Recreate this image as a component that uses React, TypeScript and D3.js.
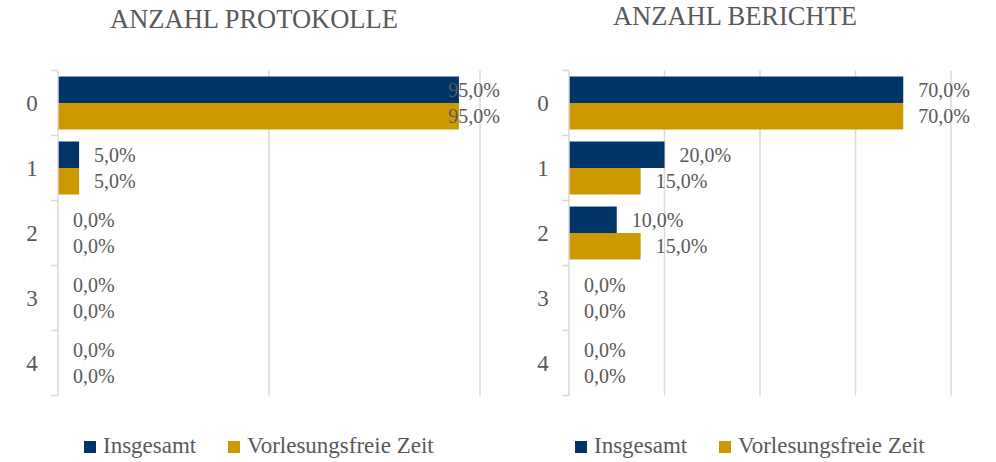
import React from 'react';
import * as d3 from 'd3';

const categories = ['0', '1', '2', '3', '4'];
const seriesNames = ['Insgesamt', 'Vorlesungsfreie Zeit'];
const seriesColors = ['#003366', '#CC9900'];

const protokolleInsgesamt = [95, 5, 0, 0, 0];
const protokolleVorlesungsfrei = [95, 5, 0, 0, 0];
const berichteInsgesamt = [70, 20, 10, 0, 0];
const berichteVorlesungsfrei = [70, 15, 15, 0, 0];

const protokolleTicks = [0, 50, 100];
const berichteTicks = [0, 20, 40, 60, 80];

const FONT = "'Liberation Serif', 'Times New Roman', serif";
const TEXT = '#595959';
const GRID = '#d9d9d9';

let ctx: CanvasRenderingContext2D | null = null;
const textWidth = (s: string, size: number) => {
  if (!ctx) ctx = document.createElement('canvas').getContext('2d');
  if (!ctx) return s.length * size * 0.5;
  ctx.font = `${size}px 'Liberation Serif'`;
  return ctx.measureText(s).width;
};

const fmt = (v: number) => v.toFixed(1).replace('.', ',') + '%';

interface PanelProps {
  title: string;
  titleX: number;
  titleY: number;
  x0: number;
  x1: number;
  ticks: number[];
  clipRight: number;
  series: number[][];
  legendX: number;
}

const Panel: React.FC<PanelProps> = ({ title, titleX, titleY, x0, x1, ticks, clipRight, series, legendX }) => {
  const x = d3.scaleLinear().domain([0, ticks[ticks.length - 1]]).range([x0, x1]);
  const y = d3.scaleBand().domain(categories).range([70.5, 395.5]).paddingInner(0.185).paddingOuter(0.0925);
  const sub = d3.scaleBand().domain(seriesNames).range([0, y.bandwidth()]);
  const step = y.step();
  const top = 70.5;
  const bottom = 395.5;

  return (
    <g>
      <text x={titleX} y={titleY} textAnchor="middle" fontSize={26.5} fill={TEXT} fontFamily={FONT}>{title}</text>

      {ticks.slice(1).map(t => (
        <line key={t} x1={x(t)} x2={x(t)} y1={top} y2={bottom} stroke={GRID} strokeWidth={1.5} />
      ))}

      {categories.map((c, i) => (
        <g key={c}>
          {seriesNames.map((s, j) => (
            <rect key={s} x={x(0)} y={(y(c) || 0) + (sub(s) || 0)} width={x(series[j][i]) - x(0)}
              height={sub.bandwidth()} fill={seriesColors[j]} />
          ))}
        </g>
      ))}

      <line x1={x0} x2={x0} y1={top} y2={bottom} stroke={GRID} strokeWidth={1.5} />
      {d3.range(categories.length + 1).map(k => (
        <line key={k} x1={x0 - 7} x2={x0} y1={top + k * step} y2={top + k * step} stroke={GRID} strokeWidth={1.5} />
      ))}

      {categories.map(c => (
        <text key={c} x={x0 - 26} y={(y(c) || 0) + y.bandwidth() / 2} dy="0.35em" textAnchor="middle"
          fontSize={23} fill={TEXT} fontFamily={FONT}>{c}</text>
      ))}

      {categories.map((c, i) => seriesNames.map((s, j) => {
        const label = fmt(series[j][i]);
        const w = textWidth(label, 20);
        const lx = Math.min(x(series[j][i]) + 15, clipRight - w);
        return (
          <text key={c + s} x={lx} y={(y(c) || 0) + (sub(s) || 0) + sub.bandwidth() / 2} dy="0.35em"
            fontSize={20} fill={TEXT} fontFamily={FONT}>{label}</text>
        );
      }))}

      {seriesNames.map((s, j) => (
        <g key={s} transform={`translate(${legendX + j * 144},0)`}>
          <rect x={0} y={441} width={12} height={12} fill={seriesColors[j]} />
          <text x={19} y={453} fontSize={23} fill={TEXT} fontFamily={FONT}>{s}</text>
        </g>
      ))}
    </g>
  );
};

const App: React.FC = () => (
  <svg width={996} height={462} style={{ position: 'absolute', left: 0, top: 0, background: 'white' }}>
    <Panel title="ANZAHL PROTOKOLLE" titleX={254} titleY={28} x0={58} x1={480} ticks={protokolleTicks}
      clipRight={500} series={[protokolleInsgesamt, protokolleVorlesungsfrei]} legendX={84} />
    <Panel title="ANZAHL BERICHTE" titleX={735} titleY={25} x0={569} x1={951} ticks={berichteTicks}
      clipRight={990} series={[berichteInsgesamt, berichteVorlesungsfrei]} legendX={575} />
  </svg>
);

export default App;
